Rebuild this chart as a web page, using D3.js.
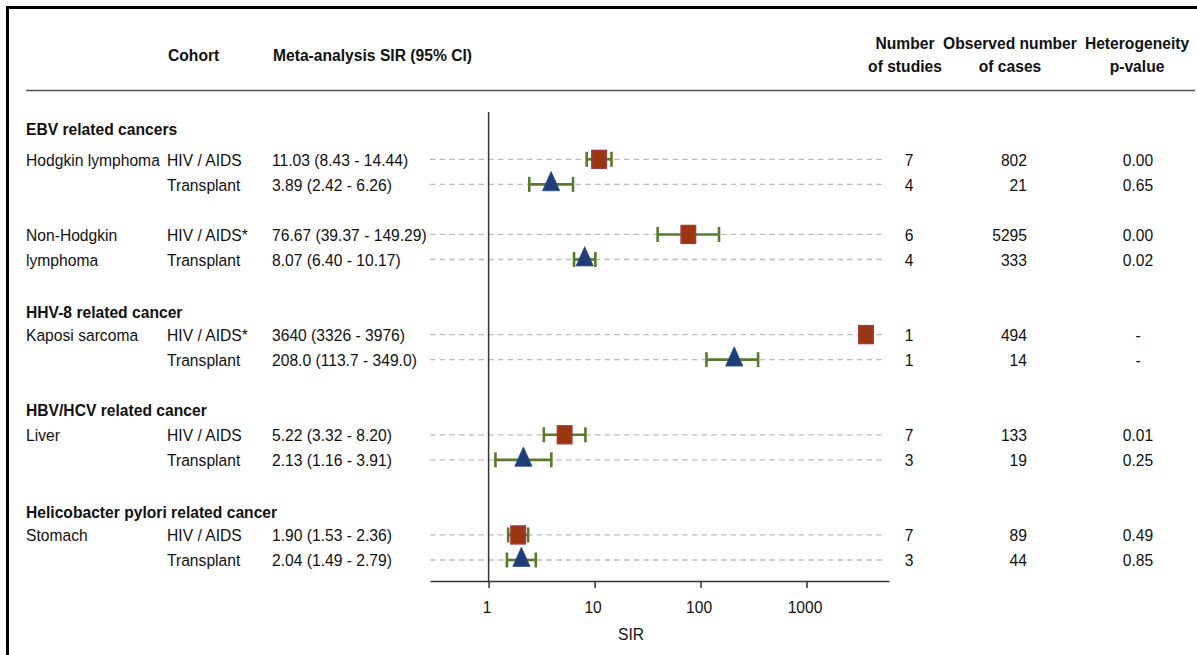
<!DOCTYPE html>
<html>
<head>
<meta charset="utf-8">
<script src="https://cdn.jsdelivr.net/npm/d3@7"></script>
<title>SIR meta-analysis forest plot</title>
<style>
body {
	margin: 0;
	background: white;
}
svg text {
	font-family: "Liberation Sans", Arial, sans-serif;
	font-size: 17px;
	fill: #111;
}
.bold {
	font-weight: bold;
}
</style>
</head>
<body>
<div id="chart"></div>
<script>

// -- data

var groupTitles = [
	"EBV related cancers",
	"HHV-8 related cancer",
	"HBV/HCV related cancer",
	"Helicobacter pylori related cancer",
];

var cancers = ["Hodgkin lymphoma", "", "Non-Hodgkin", "lymphoma", "Kaposi sarcoma", "", "Liver", "", "Stomach", ""];
var cohorts = ["HIV / AIDS", "Transplant", "HIV / AIDS*", "Transplant", "HIV / AIDS*",
	"Transplant", "HIV / AIDS", "Transplant", "HIV / AIDS", "Transplant"];
var sir = [11.03, 3.89, 76.67, 8.07, 3640, 208.0, 5.22, 2.13, 1.90, 2.04];
var lower = [8.43, 2.42, 39.37, 6.40, 3326, 113.7, 3.32, 1.16, 1.53, 1.49];
var upper = [14.44, 6.26, 149.29, 10.17, 3976, 349.0, 8.20, 3.91, 2.36, 2.79];
var sirLabels = [
	"11.03 (8.43 - 14.44)",
	"3.89 (2.42 - 6.26)",
	"76.67 (39.37 - 149.29)",
	"8.07 (6.40 - 10.17)",
	"3640 (3326 - 3976)",
	"208.0 (113.7 - 349.0)",
	"5.22 (3.32 - 8.20)",
	"2.13 (1.16 - 3.91)",
	"1.90 (1.53 - 2.36)",
	"2.04 (1.49 - 2.79)",
];
var studies = [7, 4, 6, 4, 1, 1, 7, 3, 7, 3];
var cases = [802, 21, 5295, 333, 494, 14, 133, 19, 89, 44];
var heterogeneity = ["0.00", "0.65", "0.00", "0.02", "-", "-", "0.01", "0.25", "0.49", "0.85"];
var tickValues = [1, 10, 100, 1000];

// -- layout

var W = 1197, H = 655;
var sx = 0.92;  // text looks horizontally squeezed
var rowSlots = [0, 1, 3, 4, 7, 8, 11, 12, 15, 16];
var groupSlots = [-1.2, 6.1, 10, 14.1];

var rows = sir.map(function(v, i) {
	return {
		slot: rowSlots[i], cancer: cancers[i], cohort: cohorts[i],
		sir: v, lo: lower[i], hi: upper[i], label: sirLabels[i],
		studies: studies[i], cases: cases[i], het: heterogeneity[i],
		hiv: cohorts[i].indexOf("HIV") === 0
	};
});

var svg = d3.select("#chart")
	.append("svg")
		.attr("width", W)
		.attr("height", H);

var x = d3.scaleLog()
	.domain([0.28, 6000])
	.range([430, 889]);

var y = d3.scaleLinear()
	.domain([0, 16])
	.range([159.3, 560]);

function put(sel, px, py) {
	return sel.attr("transform", "translate(" + px + "," + py + ") scale(" + sx + ",1)");
}

// frame
svg.append("path")
	.attr("d", "M7.5," + H + "V7.5H" + W)
	.attr("fill", "none")
	.attr("stroke", "#000")
	.attr("stroke-width", 3);

// -- header

put(svg.append("text").attr("class", "bold").text("Cohort"), 168, 61);
put(svg.append("text").attr("class", "bold").text("Meta-analysis SIR (95% CI)"), 273, 61);

var rightHeads = [
	{x: 905, a: "Number", b: "of studies"},
	{x: 1010, a: "Observed number", b: "of cases"},
	{x: 1137, a: "Heterogeneity", b: "p-value"},
];
rightHeads.forEach(function(h) {
	put(svg.append("text").attr("class", "bold").attr("text-anchor", "middle").text(h.a), h.x, 49);
	put(svg.append("text").attr("class", "bold").attr("text-anchor", "middle").text(h.b), h.x, 72);
});

svg.append("line")
	.attr("x1", 26).attr("x2", 1195)
	.attr("y1", 90.5).attr("y2", 90.5)
	.attr("stroke", "#555")
	.attr("stroke-width", 1.5);

// -- group titles

groupTitles.forEach(function(t, i) {
	put(svg.append("text").attr("class", "bold").text(t), 26, y(groupSlots[i]) + 6);
});

// -- dashed guides

svg.selectAll(".guide")
	.data(rows)
	.enter()
	.append("line")
		.attr("class", "guide")
		.attr("x1", 430).attr("x2", 886)
		.attr("y1", d => y(d.slot)).attr("y2", d => y(d.slot))
		.attr("stroke", "#bdbdbd")
		.attr("stroke-width", 1.3)
		.attr("stroke-dasharray", "5.5,4.2");

// -- axis

var axisY = 581;
var axis = svg.append("g")
	.attr("transform", "translate(0," + axisY + ")")
	.call(d3.axisBottom(x)
		.tickValues(tickValues)
		.tickFormat(d3.format("d"))
		.tickSize(7)
		.tickPadding(8)
		.tickSizeOuter(0));
axis.select(".domain")
	.attr("stroke", "#333")
	.attr("stroke-width", 1.5);
axis.selectAll(".tick line")
	.attr("stroke", "#333")
	.attr("stroke-width", 1.5);
axis.selectAll(".tick text")
	.attr("font-family", null)
	.attr("font-size", null)
	.attr("fill", "#111")
	.attr("y", null)
	.attr("dy", null)
	.attr("transform", "translate(-2,32) scale(" + sx + ",1)");

put(svg.append("text").attr("text-anchor", "middle").text("SIR"), 631, 640);

// reference line at SIR = 1
svg.append("line")
	.attr("x1", x(1)).attr("x2", x(1))
	.attr("y1", 112).attr("y2", axisY)
	.attr("stroke", "#333")
	.attr("stroke-width", 1.5);

// -- confidence intervals

var ci = svg.selectAll(".ci")
	.data(rows)
	.enter()
	.append("g")
		.attr("class", "ci")
		.attr("stroke", "#587a2c")
		.attr("stroke-width", 2.6);
ci.append("line")
	.attr("x1", d => x(d.lo)).attr("x2", d => x(d.hi))
	.attr("y1", d => y(d.slot)).attr("y2", d => y(d.slot));
ci.append("line")
	.attr("x1", d => x(d.lo)).attr("x2", d => x(d.lo))
	.attr("y1", d => y(d.slot) - 7.5).attr("y2", d => y(d.slot) + 7.5);
ci.append("line")
	.attr("x1", d => x(d.hi)).attr("x2", d => x(d.hi))
	.attr("y1", d => y(d.slot) - 7.5).attr("y2", d => y(d.slot) + 7.5);

// -- point estimates

svg.selectAll(".sq")
	.data(rows.filter(d => d.hiv))
	.enter()
	.append("rect")
		.attr("class", "sq")
		.attr("x", d => x(d.sir) - 7.3)
		.attr("y", d => y(d.slot) - 9)
		.attr("width", 14.6)
		.attr("height", 18)
		.attr("fill", "#9a3512")
		.attr("stroke", "#a63c42")
		.attr("stroke-width", 1.4);

svg.selectAll(".tri")
	.data(rows.filter(d => !d.hiv))
	.enter()
	.append("path")
		.attr("class", "tri")
		.attr("d", function(d) {
			var cx = x(d.sir), cy = y(d.slot);
			return "M" + cx + "," + (cy - 12.8) +
				"L" + (cx + 8.6) + "," + (cy + 6.4) +
				"L" + (cx - 8.6) + "," + (cy + 6.4) + "Z";
		})
		.attr("fill", "#1f3d78")
		.attr("stroke", "#2a4a86")
		.attr("stroke-width", 0.8);

// -- row texts

var rowText = svg.selectAll(".row")
	.data(rows)
	.enter()
	.append("g")
		.attr("class", "row");

rowText.each(function(d) {
	var g = d3.select(this);
	var by = y(d.slot) + 6.2;
	if (d.cancer) put(g.append("text").text(d.cancer), 26, by);
	put(g.append("text").text(d.cohort), 167, by);
	put(g.append("text").text(d.label), 272, by);
	put(g.append("text").attr("text-anchor", "middle").text(d.studies), 909, by);
	put(g.append("text").attr("text-anchor", "end").text(d.cases), 1027, by);
	put(g.append("text").attr("text-anchor", "middle").text(d.het), 1138, by);
});

</script>
</body>
</html>
